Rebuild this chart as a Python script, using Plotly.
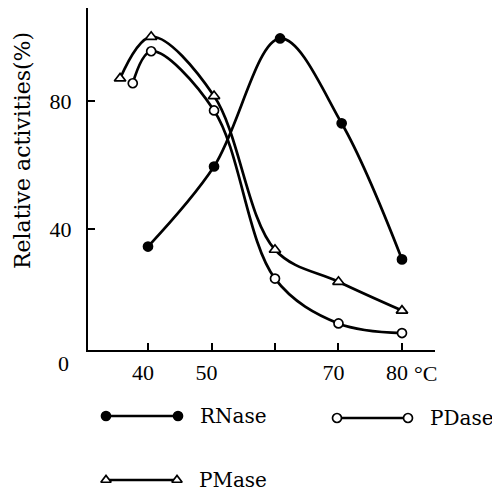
import plotly.graph_objects as go

# ---- data ----
rnase_temp = [40, 50.4, 60.8, 70.5, 80]
rnase_act = [34.5, 59.5, 99.5, 73, 30.5]

pdase_temp = [37.6, 40.5, 50.4, 60, 70, 80]
pdase_act = [85.5, 95.5, 77, 24.5, 10.5, 7.5]

pmase_temp = [35.6, 40.5, 50.4, 60, 70, 80]
pmase_act = [87, 100, 81.5, 33.5, 23.5, 14.5]

x_tick_vals = [40, 50, 60, 70, 80]
x_tick_text = ["40", "50", "", "70", "80"]
y_tick_vals = [40, 80]
y_tick_text = ["40", "80"]

# the page body adds an 8px margin, so the figure is drawn 8px smaller
OFF = 8
W, H = 500 - OFF, 496 - OFF
# pixel layout (window coordinates) of the main plot
PX_L, PX_R, PX_T, PX_B = 88 - OFF, 435 - OFF, 8 - OFF, 350 - OFF

serif = "DejaVu Serif"
num_font = "Liberation Serif"

fig = go.Figure()

def add_series(xs, ys, name, symbol, fill):
    fig.add_trace(go.Scatter(
        x=xs, y=ys, name=name, mode="lines+markers",
        line=dict(color="black", width=2.7, shape="spline", smoothing=1.0),
        marker=dict(symbol=symbol, size=9 if symbol == "circle" else 10,
                    color="black" if fill else "white",
                    line=dict(color="black", width=1.7)),
        showlegend=False, cliponaxis=False,
    ))

add_series(rnase_temp, rnase_act, "RNase", "circle", True)
add_series(pdase_temp, pdase_act, "PDase", "circle", False)
add_series(pmase_temp, pmase_act, "PMase", "triangle-up", False)

# ---- hand-drawn style legend (sample lines with end markers) ----
legend_items = [
    ("RNase", "circle", True, 106, 178, 416),
    ("PDase", "circle", False, 337, 408, 418),
    ("PMase", "triangle-up", False, 106, 177, 480),
]
for name, sym, fill, x0, x1, yy in legend_items:
    fig.add_trace(go.Scatter(
        x=[x0 - OFF, x1 - OFF], y=[yy - OFF, yy - OFF], mode="lines+markers",
        xaxis="x2", yaxis="y2",
        line=dict(color="black", width=2.4),
        marker=dict(symbol=sym, size=9, color="black" if fill else "white",
                    line=dict(color="black", width=1.7)),
        showlegend=False, cliponaxis=False, hoverinfo="skip",
    ))
    fig.add_annotation(x=x1 - OFF + 20, y=yy - OFF, xref="x2", yref="y2", text=name,
                       showarrow=False, xanchor="left", yanchor="middle",
                       font=dict(family=serif, size=20, color="black"))

y2_dom_top = 0.18
fig.update_layout(
    width=W, height=H,
    margin=dict(l=0, r=0, t=0, b=0),
    paper_bgcolor="white", plot_bgcolor="rgba(0,0,0,0)",
    template="none",
    xaxis=dict(
        domain=[PX_L / W, PX_R / W], range=[30.55, 85.2],
        tickvals=x_tick_vals, ticktext=x_tick_text,
        ticks="inside", ticklen=7, tickwidth=1.5, tickcolor="black",
        showline=True, linecolor="black", linewidth=2.2,
        showgrid=False, zeroline=False, anchor="y",
        tickfont=dict(family=num_font, size=22, color="black"),
        ticklabelstandoff=1, ticklabelshift=-5,
    ),
    yaxis=dict(
        domain=[(H - PX_B) / H, (H - PX_T) / H], range=[2.2, 109],
        tickvals=y_tick_vals, ticktext=y_tick_text,
        ticks="inside", ticklen=7, tickwidth=1.5, tickcolor="black",
        showline=True, linecolor="black", linewidth=2.2,
        showgrid=False, zeroline=False, anchor="x",
        tickfont=dict(family=num_font, size=22, color="black"),
        ticklabelstandoff=10,
    ),
    xaxis2=dict(domain=[0, 1], range=[0, W], visible=False, anchor="y2", fixedrange=True),
    yaxis2=dict(domain=[0, y2_dom_top], range=[H, H - y2_dom_top * H], visible=False,
                anchor="x2", fixedrange=True),
)

def px(x):
    return (x - OFF) / W

def py(y):
    return (H - (y - OFF)) / H

# axis title and extra labels
fig.add_annotation(x=px(22), y=py(151), xref="paper", yref="paper",
                   text="Relative activities(%)", textangle=-90, showarrow=False,
                   xanchor="center", yanchor="middle",
                   font=dict(family=serif, size=22, color="black"))
fig.add_annotation(x=px(63), y=py(363), xref="paper", yref="paper",
                   text="0", showarrow=False, xanchor="center", yanchor="middle",
                   font=dict(family=num_font, size=22, color="black"))
fig.add_annotation(x=px(425), y=py(373), xref="paper", yref="paper",
                   text="°C", showarrow=False, xanchor="center", yanchor="middle",
                   font=dict(family=num_font, size=22, color="black"))

fig.write_html("out.html")
